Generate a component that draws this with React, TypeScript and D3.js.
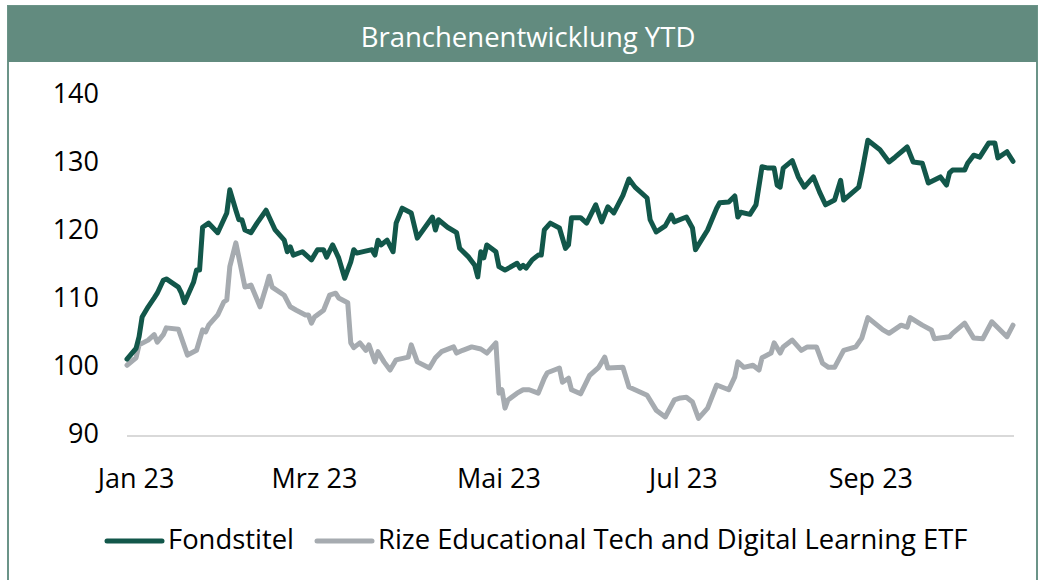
import * as d3 from "d3";

const width = 1041;
const height = 580;
const margin = { top: 96, right: 28, bottom: 144, left: 127 };

const title = "Branchenentwicklung YTD";
const seriesNames = ["Fondstitel", "Rize Educational Tech and Digital Learning ETF"];
const colors = ["#12574a", "#a6abb0"];
const yTicks = [90, 100, 110, 120, 130, 140];
const xTickDates = ["2023-01-01", "2023-03-01", "2023-05-01", "2023-07-01", "2023-09-01"];
const xTickLabels = ["Jan 23", "Mrz 23", "Mai 23", "Jul 23", "Sep 23"];

// Fondstitel
const fondsDates = [
  "2022-12-30", "2023-01-02", "2023-01-03", "2023-01-04", "2023-01-06", "2023-01-08", "2023-01-09",
  "2023-01-11", "2023-01-12", "2023-01-16", "2023-01-17", "2023-01-18", "2023-01-21", "2023-01-22",
  "2023-01-23", "2023-01-24", "2023-01-26", "2023-01-29", "2023-02-01", "2023-02-02", "2023-02-04",
  "2023-02-05", "2023-02-06", "2023-02-07", "2023-02-09", "2023-02-11", "2023-02-14", "2023-02-15",
  "2023-02-17", "2023-02-20", "2023-02-21", "2023-02-22", "2023-02-23", "2023-02-26", "2023-03-01",
  "2023-03-03", "2023-03-05", "2023-03-06", "2023-03-08", "2023-03-10", "2023-03-12", "2023-03-14",
  "2023-03-15", "2023-03-16", "2023-03-21", "2023-03-22", "2023-03-23", "2023-03-24", "2023-03-26",
  "2023-03-28", "2023-03-29", "2023-03-31", "2023-04-03", "2023-04-05", "2023-04-10", "2023-04-11",
  "2023-04-12", "2023-04-15", "2023-04-18", "2023-04-19", "2023-04-22", "2023-04-24", "2023-04-25",
  "2023-04-26", "2023-04-27", "2023-04-28", "2023-05-01", "2023-05-02", "2023-05-04", "2023-05-08",
  "2023-05-09", "2023-05-10", "2023-05-11", "2023-05-13", "2023-05-15", "2023-05-16", "2023-05-17",
  "2023-05-19", "2023-05-22", "2023-05-24", "2023-05-25", "2023-05-26", "2023-05-29", "2023-05-31",
  "2023-06-03", "2023-06-05", "2023-06-07", "2023-06-09", "2023-06-12", "2023-06-14", "2023-06-16",
  "2023-06-20", "2023-06-21", "2023-06-23", "2023-06-26", "2023-06-28", "2023-06-29", "2023-07-03",
  "2023-07-05", "2023-07-06", "2023-07-10", "2023-07-13", "2023-07-14", "2023-07-17", "2023-07-19",
  "2023-07-20", "2023-07-21", "2023-07-24", "2023-07-26", "2023-07-28", "2023-07-30", "2023-08-01",
  "2023-08-02", "2023-08-03", "2023-08-04", "2023-08-07", "2023-08-09", "2023-08-11", "2023-08-14",
  "2023-08-16", "2023-08-18", "2023-08-21", "2023-08-23", "2023-08-24", "2023-08-29", "2023-08-30",
  "2023-09-01", "2023-09-05", "2023-09-08", "2023-09-10", "2023-09-14", "2023-09-16", "2023-09-19",
  "2023-09-21", "2023-09-25", "2023-09-27", "2023-09-28", "2023-09-29", "2023-10-03", "2023-10-04",
  "2023-10-06", "2023-10-08", "2023-10-11", "2023-10-13", "2023-10-14", "2023-10-17", "2023-10-19",
];
const fondsValues = [
  101.3, 102.9, 104.6, 107.5, 109.0, 110.3, 111.0,
  112.9, 113.1, 111.9, 111.0, 109.6, 112.6, 114.4,
  114.4, 120.7, 121.3, 119.9, 122.8, 126.2, 123.2,
  121.8, 121.8, 120.3, 119.9, 121.3, 123.2, 122.2,
  120.3, 118.8, 117.1, 117.8, 116.6, 117.1, 115.9,
  117.4, 117.4, 116.3, 118.1, 116.2, 113.2, 115.6,
  117.4, 116.9, 117.4, 116.6, 118.8, 118.1, 118.8,
  117.1, 121.3, 123.5, 122.8, 119.1, 122.2, 120.3,
  121.8, 120.7, 119.9, 117.6, 116.3, 115.1, 113.4,
  117.1, 116.2, 118.1, 117.1, 114.9, 114.4, 115.4,
  114.7, 115.1, 114.7, 115.9, 116.6, 116.6, 120.3,
  121.3, 120.6, 117.6, 118.1, 122.1, 122.1, 121.3,
  124.0, 121.5, 123.7, 122.8, 125.4, 127.8, 126.6,
  125.0, 121.8, 120.0, 120.9, 122.5, 121.5, 122.2,
  120.6, 117.4, 120.3, 123.5, 124.3, 124.4, 125.3,
  122.2, 122.9, 122.6, 124.0, 129.6, 129.4, 129.4,
  126.9, 126.6, 129.4, 130.5, 128.1, 126.6, 128.1,
  125.9, 124.0, 124.7, 127.6, 124.7, 126.6, 128.7,
  133.5, 132.1, 130.3, 131.0, 132.5, 130.3, 130.1,
  127.2, 128.1, 126.9, 128.7, 129.1, 129.1, 130.1,
  131.3, 131.0, 133.1, 133.1, 130.9, 131.8, 130.4,
];

// Rize Educational Tech and Digital Learning ETF
const etfDates = [
  "2022-12-30", "2023-01-02", "2023-01-03", "2023-01-06", "2023-01-08", "2023-01-09", "2023-01-11",
  "2023-01-12", "2023-01-16", "2023-01-19", "2023-01-22", "2023-01-24", "2023-01-25", "2023-01-26",
  "2023-01-29", "2023-01-31", "2023-02-01", "2023-02-02", "2023-02-04", "2023-02-07", "2023-02-09",
  "2023-02-12", "2023-02-14", "2023-02-15", "2023-02-16", "2023-02-20", "2023-02-22", "2023-02-24",
  "2023-02-27", "2023-02-28", "2023-03-01", "2023-03-02", "2023-03-05", "2023-03-07", "2023-03-09",
  "2023-03-10", "2023-03-13", "2023-03-14", "2023-03-15", "2023-03-17", "2023-03-19", "2023-03-20",
  "2023-03-22", "2023-03-23", "2023-03-25", "2023-03-27", "2023-03-29", "2023-04-02", "2023-04-03",
  "2023-04-05", "2023-04-09", "2023-04-11", "2023-04-13", "2023-04-17", "2023-04-18", "2023-04-20",
  "2023-04-23", "2023-04-26", "2023-04-28", "2023-05-01", "2023-05-02", "2023-05-03", "2023-05-04",
  "2023-05-05", "2023-05-08", "2023-05-10", "2023-05-12", "2023-05-15", "2023-05-17", "2023-05-18",
  "2023-05-22", "2023-05-23", "2023-05-25", "2023-05-26", "2023-05-29", "2023-06-01", "2023-06-04",
  "2023-06-06", "2023-06-07", "2023-06-12", "2023-06-14", "2023-06-16", "2023-06-20", "2023-06-23",
  "2023-06-26", "2023-06-29", "2023-07-01", "2023-07-03", "2023-07-05", "2023-07-07", "2023-07-10",
  "2023-07-13", "2023-07-17", "2023-07-19", "2023-07-20", "2023-07-22", "2023-07-25", "2023-07-27",
  "2023-07-28", "2023-07-31", "2023-08-01", "2023-08-03", "2023-08-04", "2023-08-07", "2023-08-10",
  "2023-08-12", "2023-08-15", "2023-08-17", "2023-08-19", "2023-08-21", "2023-08-24", "2023-08-28",
  "2023-08-30", "2023-09-01", "2023-09-06", "2023-09-08", "2023-09-12", "2023-09-14", "2023-09-15",
  "2023-09-19", "2023-09-22", "2023-09-23", "2023-09-28", "2023-09-29", "2023-10-03", "2023-10-06",
  "2023-10-09", "2023-10-12", "2023-10-17", "2023-10-19",
];
const etfValues = [
  100.4, 101.5, 103.4, 104.1, 104.9, 103.8, 104.9,
  105.9, 105.7, 101.9, 102.6, 105.6, 105.3, 106.3,
  107.8, 109.7, 110.0, 114.9, 118.4, 111.9, 112.2,
  109.0, 111.9, 113.5, 111.9, 110.7, 109.0, 108.5,
  107.8, 107.8, 106.6, 107.5, 108.5, 110.7, 111.0,
  110.3, 109.6, 103.7, 103.0, 103.7, 102.6, 103.4,
  100.9, 102.4, 100.9, 99.7, 101.2, 101.6, 103.4,
  100.9, 100.0, 101.5, 102.4, 103.1, 102.2, 102.6,
  103.1, 102.8, 102.2, 103.7, 96.3, 96.8, 94.1,
  95.3, 96.3, 96.8, 96.8, 96.3, 98.5, 99.3,
  100.0, 97.9, 98.5, 96.8, 96.2, 98.9, 100.1,
  101.6, 100.0, 100.1, 97.2, 96.8, 96.0, 93.8,
  92.8, 95.3, 95.6, 95.7, 95.0, 92.6, 94.1,
  97.5, 96.8, 98.7, 100.9, 100.1, 100.4, 99.7,
  101.5, 102.2, 103.7, 102.2, 103.1, 104.1, 102.6,
  103.1, 103.1, 100.7, 100.1, 100.1, 102.6, 103.1,
  104.4, 107.4, 105.6, 105.1, 106.3, 106.0, 107.4,
  106.3, 105.6, 104.3, 104.6, 105.1, 106.6, 104.4,
  104.3, 106.8, 104.6, 106.3,
];

const parse = d3.timeParse("%Y-%m-%d");
const font = "'Open Sans', sans-serif";

export default function App() {
  const x = d3
    .scaleTime()
    .domain([parse("2022-12-30") as Date, parse("2023-10-19") as Date])
    .range([margin.left, width - margin.right]);
  const y = d3
    .scaleLinear()
    .domain([90, 140])
    .range([height - margin.bottom, margin.top]);

  const line = d3
    .line<[Date, number]>()
    .x(d => x(d[0]))
    .y(d => y(d[1]));

  const series = [
    fondsDates.map((d, i) => [parse(d) as Date, fondsValues[i]] as [Date, number]),
    etfDates.map((d, i) => [parse(d) as Date, etfValues[i]] as [Date, number]),
  ];

  const legend = [
    { x1: 107, x2: 162, tx: 168 },
    { x1: 317, x2: 372, tx: 378 },
  ];

  return (
    <svg
      width={width}
      height={height}
      style={{ position: "absolute", left: 0, top: 0, background: "#fff" }}
      fontFamily={font}
    >
      {/* frame + title bar */}
      <rect x={8} y={6} width={1029} height={600} fill="#fff" stroke="#6b9488" strokeWidth={2} />
      <rect x={8} y={6} width={1029} height={56} fill="#628b7f" />
      <text x={528} y={47} textAnchor="middle" fill="#fff" fontSize={27.5}>
        {title}
      </text>

      {/* baseline */}
      <line
        x1={margin.left}
        x2={width - margin.right + 1}
        y1={y(90)}
        y2={y(90)}
        stroke="#d9d9d9"
        strokeWidth={2}
      />

      {yTicks.map(t => (
        <text key={t} x={99} y={y(t) + 7} textAnchor="end" fontSize={27} fill="#000">
          {t}
        </text>
      ))}

      {xTickDates.map((d, i) => (
        <text key={d} x={x(parse(d) as Date) + 3} y={488} textAnchor="middle" fontSize={27} fill="#000">
          {xTickLabels[i]}
        </text>
      ))}

      {series.slice().reverse().map((s, ri) => {
        const i = series.length - 1 - ri;
        return (
          <path
            key={seriesNames[i]}
            d={line(s) ?? ""}
            fill="none"
            stroke={colors[i]}
            strokeWidth={5}
            strokeLinejoin="round"
            strokeLinecap="round"
          />
        );
      })}

      {legend.map((l, i) => (
        <g key={seriesNames[i]}>
          <line x1={l.x1} x2={l.x2} y1={541} y2={541} stroke={colors[i]} strokeWidth={5} strokeLinecap="round" />
          <text x={l.tx} y={549} fontSize={27.4} fill="#000">
            {seriesNames[i]}
          </text>
        </g>
      ))}
    </svg>
  );
}
